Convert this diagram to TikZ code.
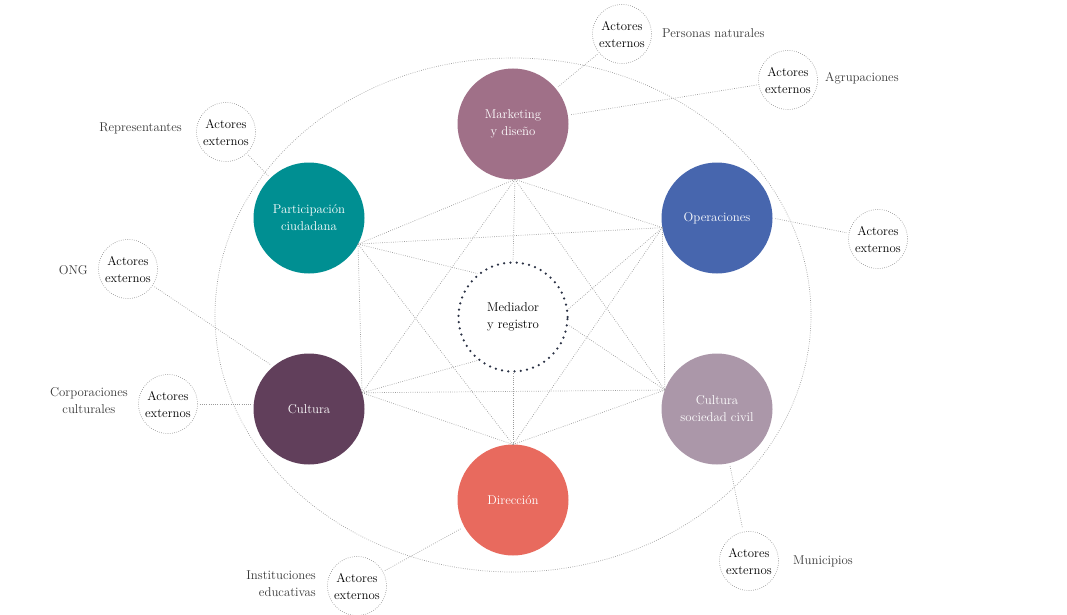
\documentclass[tikz,border=0pt]{standalone}
\usepackage{xcolor}
\usepackage{tikz}
\usetikzlibrary{calc}

\definecolor{mkcol}{RGB}{160,112,136}
\definecolor{opcol}{RGB}{71,102,174}
\definecolor{cscol}{RGB}{171,151,169}
\definecolor{dicol}{RGB}{232,106,94}
\definecolor{cucol}{RGB}{97,63,91}
\definecolor{pccol}{RGB}{0,143,146}
\definecolor{medcol}{RGB}{43,50,69}
\definecolor{linkcol}{RGB}{155,155,155}
\definecolor{tagcol}{RGB}{55,55,55}

\newcommand{\txt}{\fontsize{12.8}{17}\selectfont}

\begin{document}
\begin{tikzpicture}[x=1pt,y=-1pt,
  dept/.style={circle, minimum size=111pt, inner sep=0pt, outer sep=0pt, text=white, align=center, font=\txt},
  actor/.style={circle, draw=linkcol, line width=0.7pt, dash pattern=on 0.7pt off 1.5pt, minimum size=59pt, inner sep=0pt, align=center, font=\txt},
  link/.style={draw=linkcol, line width=0.7pt, dash pattern=on 0.7pt off 1.5pt},
  tag/.style={text=tagcol, font=\txt, inner sep=0pt}]
\useasboundingbox (0,0) rectangle (1067,615);
\draw[link] (513,315) ellipse [x radius=298, y radius=257];

% departamentos
\node[dept, fill=mkcol] (mk) at (513,124) {Marketing\\y diseño};
\node[dept, fill=opcol] (op) at (717,218) {Operaciones};
\node[dept, fill=cscol] (cs) at (717,409) {Cultura\\sociedad civil};
\node[dept, fill=dicol] (di) at (513,500) {Dirección};
\node[dept, fill=cucol] (cu) at (309,409) {Cultura};
\node[dept, fill=pccol] (pc) at (309,218) {Participación\\ciudadana};

\node[circle, minimum size=109pt, inner sep=0pt, fill=white, draw=medcol, line width=2.5pt,
  dash pattern=on 0pt off 6.3pt, line cap=round, align=center, font=\txt] (med) at (513,317) {Mediador\\y registro};

% puntos de enlace
\coordinate (m) at (mk.-88);
\coordinate (p) at (pc.-28);
\coordinate (o) at (op.190);
\coordinate (c) at (cu.17);
\coordinate (s) at (cs.160);
\coordinate (d) at (di.90);

\foreach \a/\b in {m/p,m/o,m/c,m/s,p/o,p/c,p/d,o/s,o/d,c/s,c/d,s/d}
  \draw[link] (\a) -- (\b);
\draw[link] (m) -- (med.north);
\draw[link] (d) -- (med.south);
\draw[link] (p) -- (med.129);
\draw[link] (c) -- (med.231);
\draw[link] (o) -- (med.8);
\draw[link] (s) -- (med.-8);

% actores externos
\node[actor] (a1) at (622,34) {Actores\\externos};
\node[actor] (a2) at (788,80) {Actores\\externos};
\node[actor] (a3) at (226,132) {Actores\\externos};
\node[actor] (a4) at (128,269) {Actores\\externos};
\node[actor] (a5) at (168,404) {Actores\\externos};
\node[actor] (a6) at (878,239) {Actores\\externos};
\node[actor] (a7) at (749,561) {Actores\\externos};
\node[actor] (a8) at (357,586) {Actores\\externos};

\draw[link, shorten >=3pt, shorten <=2pt] (a1) -- (mk);
\draw[link, shorten >=3pt, shorten <=2pt] (a2) -- (mk);
\draw[link, shorten >=3pt, shorten <=2pt] (a3) -- (pc);
\draw[link, shorten >=3pt, shorten <=2pt] (a4) -- (cu.130);
\draw[link, shorten >=3pt, shorten <=2pt] (a5) -- (a5 -| cu.west);
\draw[link, shorten <=3pt, shorten >=2pt] (op.east) -- (a6);
\draw[link, shorten <=3pt, shorten >=4pt] (cs.-77) -- (a7);
\draw[link, shorten >=3pt, shorten <=2pt] (a8) -- (di);

% etiquetas
\node[tag, anchor=west] (t1) at (662,33) {Personas naturales};
\node[tag, anchor=west] (t2) at (825,78) {Agrupaciones};
\node[tag, anchor=east] (t3) at (182,128) {Representantes};
\node[tag, anchor=east] (t4) at (88,270) {ONG};
\node[tag, anchor=east, align=center] (t5) at (128,401) {Corporaciones\\culturales};
\node[tag, anchor=east, align=right] (t8) at (316,584) {Instituciones\\educativas};
\node[tag, anchor=west] (t7) at (793,561) {Municipios};
\end{tikzpicture}
\end{document}
